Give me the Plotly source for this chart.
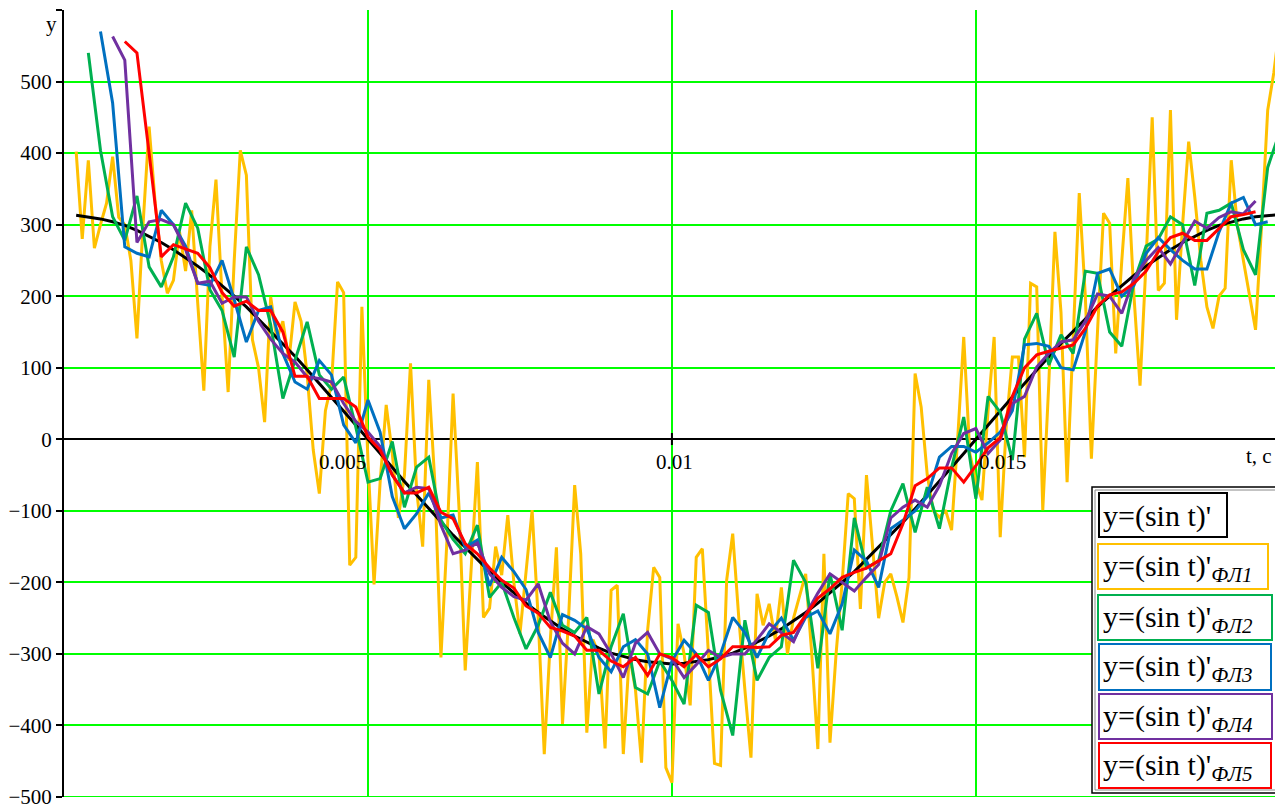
import numpy as np
import plotly.graph_objects as go

# ---------------- data ----------------
# raw noisy derivative, sampled every 0.1 ms starting at t = 0.2 ms
yellow_t0, yellow_dt = 0.0002, 0.0001
yellow_vals = [
    402, 280, 390, 267, 300, 330, 395, 310, 300, 250,
    141, 300, 437, 330, 250, 204, 222, 290, 235, 320,
    190, 68, 269, 363, 200, 66, 250, 404, 369, 139,
    100, 24, 199, 140, 165, 110, 192, 165, 90, -15,
    -76, 40, 78, 220, 205, -176, -165, 185, -30, -203,
    -60, 48, -20, -110, -50, 106, -70, -150, 83, -60,
    -305, -140, 64, -100, -323, -180, -32, -249, -236, -150,
    -190, -106, -200, -272, -180, -99, -250, -440, -280, -151,
    -398, -250, -64, -160, -410, -280, -300, -432, -211, -204,
    -440, -300, -350, -452, -267, -179, -193, -459, -480, -258,
    -300, -372, -165, -153, -300, -453, -456, -197, -132, -250,
    -350, -445, -216, -260, -230, -280, -207, -300, -250, -220,
    -188, -300, -433, -160, -424, -300, -200, -76, -83, -237,
    -50, -150, -250, -200, -188, -220, -256, -193, 92, 45,
    -50, -100, -109, -99, -127, 0, 143, -20, -60, -85,
    40, 143, -137, 20, 115, 115, -25, 218, 213, -99,
    80, 290, 177, -60, 150, 344, 200, -27, 150, 316,
    302, 120, 250, 365, 200, 75, 250, 450, 208, 218,
    460, 167, 300, 416, 339, 250, 185, 155, 200, 211,
    390, 300, 250, 200, 153, 300, 460, 512, 580,
]

# exact derivative, every 0.2 ms from t = 0.2 ms
black_t0, dt = 0.0002, 0.0002
black_vals = [
    313, 311, 308, 304, 299, 292, 284, 275, 265, 254,
    242, 229, 215, 200, 185, 168, 151, 134, 116, 97,
    78, 59, 39, 20, 0, -20, -39, -59, -78, -97,
    -116, -134, -151, -168, -185, -200, -215, -229, -242, -254,
    -265, -275, -284, -292, -299, -304, -308, -311, -313, -314,
    -313, -311, -308, -304, -299, -292, -284, -275, -265, -254,
    -242, -229, -215, -200, -185, -168, -151, -134, -116, -97,
    -78, -59, -39, -20, 0, 20, 39, 59, 78, 97,
    116, 134, 151, 168, 185, 200, 215, 229, 242, 254,
    265, 275, 284, 292, 299, 304, 308, 311, 313, 314,
]

# filtered series, every 0.2 ms
green_t0 = 0.0004
green_vals = [
    540, 404, 311, 278, 340, 241, 213, 255, 330, 295,
    209, 180, 115, 269, 230, 160, 57, 110, 164, 90,
    70, 87, 17, -60, -55, -3, -95, -39, -25, -113,
    -140, -160, -120, -221, -200, -249, -293, -260, -214, -260,
    -270, -249, -356, -290, -244, -347, -356, -310, -337, -370,
    -232, -242, -351, -414, -253, -337, -305, -290, -169, -200,
    -320, -188, -267, -110, -180, -170, -100, -62, -130, -67,
    -125, -40, 31, -83, 60, 38, -29, 140, 176, 104,
    146, 120, 235, 232, 150, 130, 220, 270, 280, 311,
    300, 215, 316, 320, 330, 265, 230, 380, 430,
]
blue_t0 = 0.0006
blue_vals = [
    570, 470, 269, 260, 255, 320, 300, 270, 218, 215,
    250, 195, 136, 180, 185, 120, 80, 70, 110, 90,
    20, -5, 55, 10, -80, -125, -104, -75, -110, -106,
    -151, -141, -205, -165, -185, -210, -270, -305, -245, -253,
    -265, -305, -325, -290, -280, -300, -375, -310, -281, -300,
    -337, -300, -249, -270, -305, -270, -250, -281, -249, -240,
    -272, -230, -155, -170, -207, -125, -113, -100, -80, -25,
    -10, -10, -18, -5, 10, 40, 132, 134, 130, 100,
    97, 150, 232, 238, 200, 215, 260, 282, 265, 250,
    238, 238, 290, 330, 338, 300, 304,
]
purple_t0 = 0.0008
purple_vals = [
    563, 530, 275, 304, 307, 300, 265, 218, 221, 190,
    199, 199, 165, 140, 120, 108, 87, 85, 80, 50,
    25, 10, -10, -50, -75, -67, -69, -120, -160, -155,
    -145, -188, -207, -220, -225, -202, -255, -285, -300, -262,
    -272, -300, -333, -285, -270, -300, -307, -333, -315, -295,
    -305, -300, -300, -280, -258, -270, -283, -245, -215, -188,
    -200, -212, -193, -175, -110, -95, -85, -95, -65, -20,
    8, 15, -20, -1, 50, 60, 101, 120, 136, 139,
    165, 203, 200, 176, 225, 250, 268, 245, 275, 305,
    295, 310, 318, 315, 333,
]
red_t0 = 0.0010
red_vals = [
    556, 540, 400, 255, 272, 266, 260, 240, 205, 186,
    193, 180, 180, 150, 88, 88, 57, 57, 57, 45,
    3, -15, -50, -75, -75, -67, -102, -111, -146, -160,
    -180, -197, -208, -233, -243, -263, -268, -275, -295, -295,
    -310, -318, -305, -330, -300, -305, -318, -301, -318, -307,
    -290, -290, -291, -290, -274, -270, -246, -222, -209, -193,
    -186, -180, -170, -160, -118, -65, -55, -40, -40, -60,
    -37, -12, 2, 60, 100, 118, 123, 128, 132, 155,
    186, 202, 206, 218, 235, 262, 282, 288, 278, 278,
    295, 311, 314, 318,
]

x_tick_vals = [0.005, 0.01, 0.015]
x_tick_text = ["0.005", "0.01", "0.015"]
y_tick_vals = list(range(-500, 601, 100))
y_tick_text = ["\u2212500", "\u2212400", "\u2212300", "\u2212200", "\u2212100",
               "0", "100", "200", "300", "400", "500", " "]
legend_labels = ["y=(sin t)'",
                 "y=(sin t)'<sub><i>ФЛ1</i></sub>",
                 "y=(sin t)'<sub><i>ФЛ2</i></sub>",
                 "y=(sin t)'<sub><i>ФЛ3</i></sub>",
                 "y=(sin t)'<sub><i>ФЛ4</i></sub>",
                 "y=(sin t)'<sub><i>ФЛ5</i></sub>"]

# ---------------- styles / layout ----------------
C_BLACK, C_YEL, C_GRN, C_BLU, C_PUR, C_RED = "#000000", "#FFC000", "#00B050", "#0070C0", "#7030A0", "#FF0000"
C_GRID = "#00FF00"
SERIF = "Liberation Serif, Times New Roman, serif"
W, H = 1275, 804
L, R, T, B = 64, 0, 10, 7
PW, PH = W - L - R, H - T - B


def px(x):
    return (x - L) / PW


def py(y):
    return (H - B - y) / PH


def tgrid(t0, step, n):
    return t0 + step * np.arange(n)


fig = go.Figure()
series = [
    (tgrid(yellow_t0, yellow_dt, len(yellow_vals)), yellow_vals, C_YEL),
    (tgrid(black_t0, dt, len(black_vals)), black_vals, C_BLACK),
    (tgrid(green_t0, dt, len(green_vals)), green_vals, C_GRN),
    (tgrid(blue_t0, dt, len(blue_vals)), blue_vals, C_BLU),
    (tgrid(purple_t0, dt, len(purple_vals)), purple_vals, C_PUR),
    (tgrid(red_t0, dt, len(red_vals)), red_vals, C_RED),
]
for tx, vy, col in series:
    fig.add_trace(go.Scatter(x=tx, y=vy, mode="lines",
                             line=dict(color=col, width=3),
                             showlegend=False, hoverinfo="skip"))

fig.update_layout(
    width=W, height=H,
    margin=dict(l=L, r=R, t=T, b=B, pad=0, autoexpand=False),
    paper_bgcolor="white", plot_bgcolor="white",
    font=dict(family=SERIF, size=21, color="black"),
    showlegend=False,
)
fig.update_xaxes(range=[0, 0.01992], tickvals=x_tick_vals, showticklabels=False,
                 showgrid=True, gridcolor=C_GRID, gridwidth=2, automargin=False,
                 zeroline=False, showline=False, ticks="")
fig.update_yaxes(range=[-500, 600], tickvals=y_tick_vals, ticktext=y_tick_text,
                 showgrid=True, gridcolor=C_GRID, gridwidth=2, automargin=False,
                 zeroline=True, zerolinecolor="black", zerolinewidth=2,
                 showline=True, linecolor="black", linewidth=2,
                 ticks="outside", ticklen=6, tickwidth=2, tickcolor="black",
                 ticklabeloverflow="allow",
                 tickfont=dict(family=SERIF, size=21, color="black"))

ann = []
# x tick labels placed as in the original
ann.append(dict(x=px(368), y=py(462), text=x_tick_text[0], xanchor="right", yanchor="middle"))
ann.append(dict(x=px(674), y=py(462), text=x_tick_text[1], xanchor="center", yanchor="middle"))
ann.append(dict(x=px(977), y=py(462), text=x_tick_text[2], xanchor="left", yanchor="middle"))
ann.append(dict(x=px(1274), y=py(456), text="t, c", xanchor="right", yanchor="middle"))
ann.append(dict(x=px(51), y=py(24), text="y", xanchor="center", yanchor="middle"))
for a in ann:
    a.update(xref="paper", yref="paper", showarrow=False,
             font=dict(family=SERIF, size=21, color="black"))

shapes = []
# bottom grid line at the range edge
shapes.append(dict(type="line", xref="paper", yref="y", x0=0, x1=1, y0=-500, y1=-500,
                   line=dict(color=C_GRID, width=2), layer="below"))
# small tick at 0.01 on the time axis
shapes.append(dict(type="line", xref="x", yref="paper", x0=0.01, x1=0.01,
                   y0=py(445), y1=py(433), line=dict(color="black", width=2)))
# legend frame
shapes.append(dict(type="rect", xref="paper", yref="paper", x0=px(1092), x1=px(1290),
                   y0=py(793), y1=py(487), fillcolor="white", line=dict(color="black", width=1.5), layer="above"))
shapes.append(dict(type="rect", xref="paper", yref="paper", x0=px(1095), x1=px(1290),
                   y0=py(790), y1=py(490), fillcolor="white", line=dict(color="#888888", width=1), layer="above"))
boxes = [(1099, 1227, 493, 537, C_BLACK), (1098, 1268, 544, 589, C_YEL),
         (1098, 1272, 595, 640, C_GRN), (1099, 1271, 644, 690, C_BLU),
         (1099, 1272, 694, 739, C_PUR), (1099, 1271, 743, 788, C_RED)]
for (x0, x1, y0, y1, col), lab in zip(boxes, legend_labels):
    shapes.append(dict(type="rect", xref="paper", yref="paper", x0=px(x0), x1=px(x1),
                       y0=py(y1), y1=py(y0), fillcolor="white",
                       line=dict(color=col, width=2), layer="above"))
    ann.append(dict(xref="paper", yref="paper", x=px(1101), y=py((y0 + y1) / 2 + 1),
                    text=lab, xanchor="left", yanchor="middle", showarrow=False,
                    font=dict(family=SERIF, size=30, color="black")))

fig.update_layout(annotations=ann, shapes=shapes)
fig.write_html("out.html", config={"displayModeBar": False},
               post_script="document.body.style.margin='0px';document.body.style.overflow='hidden';")
